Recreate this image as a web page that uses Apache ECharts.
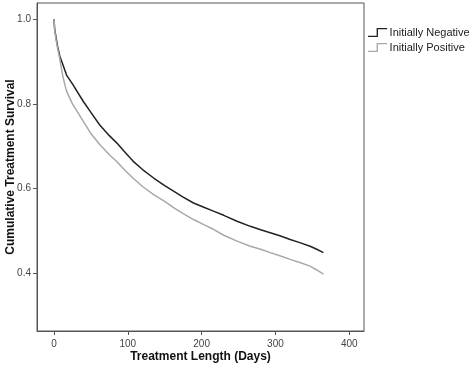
<!DOCTYPE html>
<html>
<head>
<meta charset="utf-8">
<script src="https://cdn.jsdelivr.net/npm/echarts@6/dist/echarts.min.js"></script>
<style>
  html, body { margin: 0; padding: 0; background: #fff; }
  #chart { width: 472px; height: 370px; }
</style>
</head>
<body>
<div id="chart"></div>
<script>
"use strict";

var days = [0, 1, 3, 5, 8, 12, 17, 25, 40, 50, 62, 75, 85, 95, 107, 120, 135, 150, 162, 175,
  189, 203, 216, 230, 248, 266, 280, 293, 307, 320, 334, 347, 356, 365];
var negative = [1.0, 0.975, 0.955, 0.935, 0.912, 0.893, 0.868, 0.847, 0.805, 0.78, 0.75, 0.725,
  0.708, 0.688, 0.665, 0.645, 0.625, 0.607, 0.594, 0.58, 0.566, 0.556, 0.547, 0.537, 0.523,
  0.511, 0.503, 0.496, 0.488, 0.48, 0.472, 0.464, 0.457, 0.449];
var positive = [1.0, 0.972, 0.95, 0.93, 0.905, 0.865, 0.83, 0.8, 0.758, 0.73, 0.704, 0.68,
  0.664, 0.645, 0.625, 0.605, 0.586, 0.57, 0.555, 0.541, 0.527, 0.515, 0.504, 0.49, 0.476,
  0.464, 0.457, 0.449, 0.441, 0.433, 0.425, 0.417, 0.408, 0.398];
var seriesNames = ['Initially Negative', 'Initially Positive'];
var xTicks = [0, 100, 200, 300, 400];
var yTicks = [0.4, 0.6, 0.8, 1.0];

function pairs(vals) {
  return days.map(function (d, i) {
    return [d, vals[i]];
  });
}

var stepIcon = 'path://M0,8 L9,8 L9,0 L20,0 L20,1.4 L10.4,1.4 L10.4,9.4 L0,9.4 Z';

var myChart = echarts.init(document.getElementById('chart'));
var option = {
  animation: false,
  color: ['#222222', '#a8a8a8'],
  textStyle: { fontFamily: 'Liberation Sans, Arial, sans-serif' },
  grid: {
    left: 37,
    right: 108,
    top: 3,
    bottom: 39,
    outerBoundsMode: 'none',
    containLabel: false,
    show: true,
    borderColor: '#555',
    borderWidth: 1
  },
  legend: {
    orient: 'vertical',
    left: 363,
    top: 22,
    itemWidth: 20,
    itemHeight: 9,
    itemGap: 4,
    icon: stepIcon,
    textStyle: { fontSize: 11, color: '#222', padding: [0, 0, 0, -3] },
    data: seriesNames
  },
  xAxis: {
    type: 'value',
    min: -23,
    max: 420,
    name: 'Treatment Length (Days)',
    nameLocation: 'middle',
    nameGap: 20,
    nameMoveOverlap: false,
    nameTextStyle: { fontSize: 12, fontWeight: 'bold', color: '#111' },
    splitLine: { show: false },
    axisLine: { onZero: false, lineStyle: { color: '#555' } },
    axisTick: { customValues: xTicks, length: 4, lineStyle: { color: '#555' } },
    axisLabel: { customValues: xTicks, fontSize: 10, color: '#444', margin: 8 }
  },
  yAxis: {
    type: 'value',
    min: 0.264,
    max: 1.038,
    name: 'Cumulative Treatment Survival',
    nameLocation: 'middle',
    nameGap: 20,
    nameMoveOverlap: false,
    nameTextStyle: { fontSize: 12, fontWeight: 'bold', color: '#111' },
    splitLine: { show: false },
    axisLine: { onZero: false, lineStyle: { color: '#555' } },
    axisTick: { customValues: yTicks, length: 4, lineStyle: { color: '#555' } },
    axisLabel: {
      customValues: yTicks,
      fontSize: 10,
      color: '#444',
      margin: 6,
      formatter: function (v) {
        return v.toFixed(1);
      }
    }
  },
  series: [{
    type: 'line',
    name: seriesNames[0],
    showSymbol: false,
    lineStyle: { width: 1.5 },
    data: pairs(negative)
  }, {
    type: 'line',
    name: seriesNames[1],
    showSymbol: false,
    lineStyle: { width: 1.5 },
    data: pairs(positive)
  }]
};
myChart.setOption(option);
</script>
</body>
</html>
